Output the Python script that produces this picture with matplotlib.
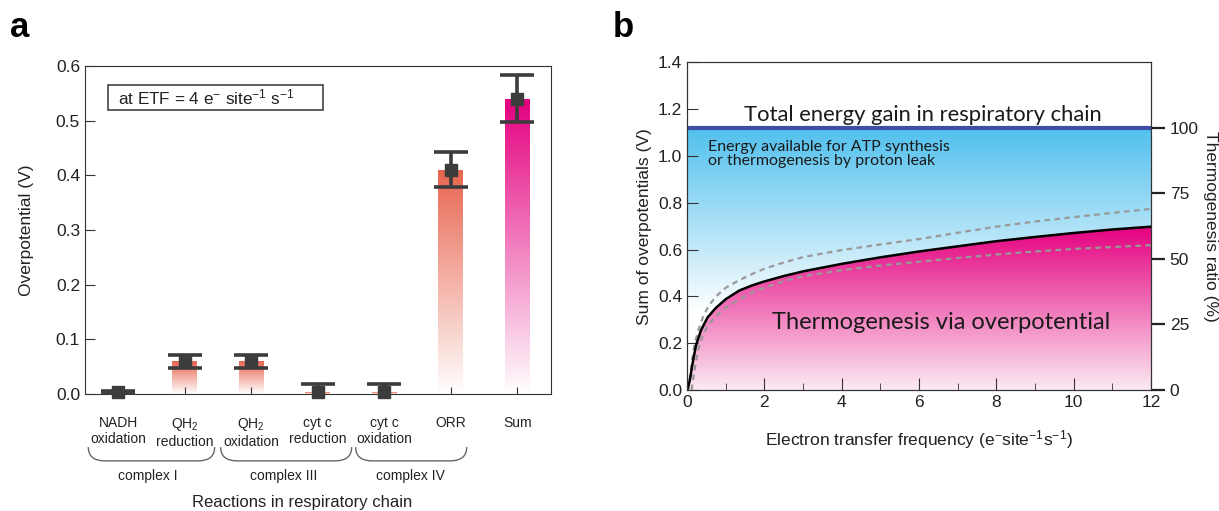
import numpy as np
import matplotlib
matplotlib.use("Agg")
import matplotlib.pyplot as plt
import matplotlib.transforms as mtransforms
from matplotlib.colors import LinearSegmentedColormap
from matplotlib.patches import Polygon, PathPatch, Rectangle
from matplotlib.path import Path
from matplotlib.ticker import MultipleLocator

plt.rcParams['font.family'] = ['Liberation Sans', 'DejaVu Sans']
plt.rcParams['mathtext.fontset'] = 'custom'
plt.rcParams['mathtext.rm'] = 'Liberation Sans'
plt.rcParams['mathtext.it'] = 'Liberation Sans:italic'
plt.rcParams['mathtext.default'] = 'regular'

# ------------------------------------------------------------------
# data, panel a : overpotential of each reaction at ETF = 4
# ------------------------------------------------------------------
reactions   = ["NADH\noxidation", "QH$_2$\nreduction", "QH$_2$\noxidation",
               "cyt c\nreduction", "cyt c\noxidation", "ORR", "Sum"]
overpot     = [0.003, 0.060, 0.060, 0.003, 0.003, 0.410, 0.540]
overpot_err = [0.003, 0.012, 0.012, 0.015, 0.015, 0.032, 0.043]
complexes   = ["complex I", "complex III", "complex IV"]

# ------------------------------------------------------------------
# data, panel b : sum of overpotentials vs electron transfer frequency
# ------------------------------------------------------------------
etf_mid = [0, 0.03, 0.07, 0.14, 0.23, 0.36, 0.53, 0.74, 1.0, 1.35, 1.7, 2.0,
           2.5, 3.0, 4.0, 5.0, 6.0, 7.0, 8.0, 9.0, 10.0, 11.0, 12.0]
eta_mid = [0, 0.015, 0.040, 0.110, 0.190, 0.255, 0.310, 0.350, 0.388, 0.425,
           0.448, 0.464, 0.487, 0.507, 0.539, 0.567, 0.592, 0.614, 0.636,
           0.654, 0.671, 0.686, 0.698]

etf_hi = [0.04, 0.08, 0.13, 0.20, 0.30, 0.42, 0.56, 0.75, 1.0, 1.3, 1.7, 2.0,
          2.5, 3.0, 4.0, 5.0, 6.0, 7.0, 8.0, 9.0, 10.0, 11.0, 12.0]
eta_hi = [0, 0.060, 0.130, 0.200, 0.260, 0.315, 0.360, 0.400, 0.437, 0.465,
          0.497, 0.518, 0.545, 0.568, 0.598, 0.622, 0.645, 0.672, 0.698,
          0.720, 0.739, 0.757, 0.774]

etf_lo = [0.12, 0.17, 0.23, 0.30, 0.40, 0.52, 0.66, 0.83, 1.0, 1.27, 1.7, 2.0,
          2.56, 3.0, 4.0, 5.0, 6.0, 7.0, 8.0, 9.0, 10.0, 11.0, 12.0]
eta_lo = [0, 0.060, 0.120, 0.180, 0.230, 0.270, 0.300, 0.328, 0.350, 0.380,
          0.418, 0.437, 0.468, 0.486, 0.512, 0.532, 0.548, 0.564, 0.579,
          0.592, 0.603, 0.611, 0.619]

total_gain = 1.12          # V, equals 100 % thermogenesis ratio

# ------------------------------------------------------------------
# figure
# ------------------------------------------------------------------
fig = plt.figure(figsize=(12.19, 5.11), dpi=100)
axa = fig.add_axes([0.0697, 0.2290, 0.3819, 0.6418])
axb = fig.add_axes([0.5636, 0.2368, 0.3806, 0.6410])

dark = '#3c3c3c'
txt = '#222222'
myriad = ['Lato', 'DejaVu Sans']

# ---------------- panel a ----------------
x = np.arange(len(reactions))
bar_cols = ['#E8654F'] * (len(reactions) - 1) + ['#E4007F']
bars = axa.bar(x, overpot, width=0.37, color='none', edgecolor='none')
grad = np.linspace(0, 1, 256).reshape(-1, 1)
for b, c in zip(bars, bar_cols):
    cm = LinearSegmentedColormap.from_list('g', ['#ffffff', c])
    x0, w, h = b.get_x(), b.get_width(), b.get_height()
    im = axa.imshow(grad, cmap=cm, aspect='auto', origin='lower',
                    extent=[x0, x0 + w, 0, h], zorder=1, interpolation='bilinear')
    im.set_clip_path(b)

axa.errorbar(x, overpot, yerr=overpot_err, fmt='none', ecolor=dark,
             elinewidth=2.6, capsize=12.5, capthick=2.6, zorder=3)
axa.plot(x, overpot, 's', color=dark, ms=9, clip_on=False, zorder=4)

axa.set_xlim(-0.5, len(reactions) - 0.5)
axa.set_ylim(0, 0.6)
axa.yaxis.set_major_locator(MultipleLocator(0.1))
axa.set_xticks(x)
axa.set_xticklabels(reactions, fontsize=10, linespacing=1.2)
axa.tick_params(axis='x', direction='in', length=5, pad=16, colors='#333333',
                labelcolor=txt)
axa.tick_params(axis='y', direction='in', length=7, labelsize=12.5, colors='#333333',
                labelcolor=txt)
for s in axa.spines.values():
    s.set_color('#333333')
axa.set_ylabel("Overpotential (V)", fontsize=12.5, color=txt)
axa.yaxis.set_label_coords(-0.11, 0.5)

# condition box
axa.add_patch(Rectangle((0.049, 0.866), 0.462, 0.076, transform=axa.transAxes,
                        fc='white', ec='#333333', lw=1.1, zorder=5))
axa.text(0.071, 0.904, "at ETF = 4 e$^{-}$ site$^{-1}$ s$^{-1}$", transform=axa.transAxes,
         fontsize=12.3, va='center', color=txt, zorder=6)

# braces grouping the complexes
trans = mtransforms.blended_transform_factory(axa.transData, axa.transAxes)
brace_span = [(-0.45, 1.45), (1.54, 3.51), (3.57, 5.24)]
label_x = [0.44, 2.49, 4.39]
ytop, ybot = -0.162, -0.204
for (x0, x1), lx, name in zip(brace_span, label_x, complexes):
    d = 0.25
    verts = [(x0, ytop), (x0, ybot), (x0 + d, ybot), (x1 - d, ybot),
             (x1, ybot), (x1, ytop)]
    codes = [Path.MOVETO, Path.CURVE3, Path.CURVE3, Path.LINETO,
             Path.CURVE3, Path.CURVE3]
    axa.add_patch(PathPatch(Path(verts, codes), transform=trans, fc='none',
                            ec='#666666', lw=1.0, clip_on=False))
    axa.text(lx, -0.25, name, transform=trans, ha='center', va='center',
             fontsize=10, color=txt)
axa.text(2.76, -0.331, "Reactions in respiratory chain", transform=trans,
         ha='center', va='center', fontsize=12, color=txt)

# ---------------- panel b ----------------
axb.set_xlim(0, 12)
axb.set_ylim(0, 1.4)

yy = np.linspace(0, total_gain, 400).reshape(-1, 1)
blue_vals = np.clip((yy - 0.33) / (total_gain - 0.33), 0, 1)
blue_cm = LinearSegmentedColormap.from_list('b', ['#ffffff', '#50C0EE'])
im_b = axb.imshow(blue_vals, cmap=blue_cm, vmin=0, vmax=1, aspect='auto',
                  origin='lower', extent=[0, 12, 0, total_gain], zorder=1)
poly_b = Polygon(list(zip(etf_mid, eta_mid)) + [(etf_mid[-1], total_gain),
                                                (etf_mid[0], total_gain)],
                 closed=True, fc='none', ec='none', transform=axb.transData)
axb.add_patch(poly_b)
im_b.set_clip_path(poly_b)

top = max(eta_mid)
mag_cm = LinearSegmentedColormap.from_list('m', ['#FCEAF3', '#E4007F'])
im_m = axb.imshow(np.linspace(0, 1, 256).reshape(-1, 1), cmap=mag_cm,
                  aspect='auto', origin='lower', extent=[0, 12, 0, top], zorder=1)
poly_m = Polygon(list(zip(etf_mid, eta_mid)) + [(etf_mid[-1], 0), (etf_mid[0], 0)],
                 closed=True, fc='none', ec='none', transform=axb.transData)
axb.add_patch(poly_m)
im_m.set_clip_path(poly_m)

axb.plot(etf_hi, eta_hi, color='#999999', lw=1.6, ls=(0, (2.5, 2.0)), zorder=3)
axb.plot(etf_lo, eta_lo, color='#999999', lw=1.6, ls=(0, (2.5, 2.0)), zorder=3)
axb.plot(etf_mid, eta_mid, color='black', lw=1.8, zorder=4)
axb.axhline(total_gain, color='#3F4FA6', lw=3, zorder=5)

axb.text(6.09, 1.149, "Total energy gain in respiratory chain", ha='center',
         va='baseline', fontsize=15.8, family=myriad, color='#1a1a1a', zorder=6)
axb.text(0.53, 0.962, "Energy available for ATP synthesis\nor thermogenesis by proton leak",
         va='baseline', fontsize=11.5, family=myriad, color='#1a1a1a',
         linespacing=1.0, zorder=6)
axb.text(6.58, 0.26, "Thermogenesis via overpotential", ha='center', va='baseline',
         fontsize=17, family=myriad, color='#1a1a1a', zorder=6)

axb.xaxis.set_major_locator(MultipleLocator(2))
axb.xaxis.set_minor_locator(MultipleLocator(1))
axb.yaxis.set_major_locator(MultipleLocator(0.2))
axb.tick_params(axis='x', which='major', direction='in', length=9, labelsize=12.5,
                colors='#333333', labelcolor=txt)
axb.tick_params(axis='x', which='minor', direction='in', length=5, colors='#333333')
axb.tick_params(axis='y', direction='in', length=8, labelsize=12.5, colors='#333333',
                labelcolor=txt)
for s in axb.spines.values():
    s.set_color('#333333')
axb.set_xlabel("Electron transfer frequency (e$^{-}$site$^{-1}$s$^{-1}$)", fontsize=12.5,
               labelpad=13, color=txt)
axb.set_ylabel("Sum of overpotentials (V)", fontsize=12.5, color=txt)
axb.yaxis.set_label_coords(-0.075, 0.5)

ax2 = axb.twinx()
ax2.set_ylim(0, 1.4 / total_gain * 100)
ax2.set_yticks([0, 25, 50, 75, 100])
ax2.tick_params(axis='y', direction='out', length=10, width=1.6, labelsize=12.5,
                colors='#222222', labelcolor=txt)
ax2.set_ylabel("Thermogenesis ratio (%)", fontsize=12.5, rotation=270, labelpad=14,
               color=txt)
for s in ax2.spines.values():
    s.set_color('#333333')

fig.text(10 / 1219, 1 - 37 / 511, "a", fontsize=25, fontweight='bold', va='baseline')
fig.text(613 / 1219, 1 - 37 / 511, "b", fontsize=25, fontweight='bold', va='baseline')

fig.savefig("out.png", dpi=100)
